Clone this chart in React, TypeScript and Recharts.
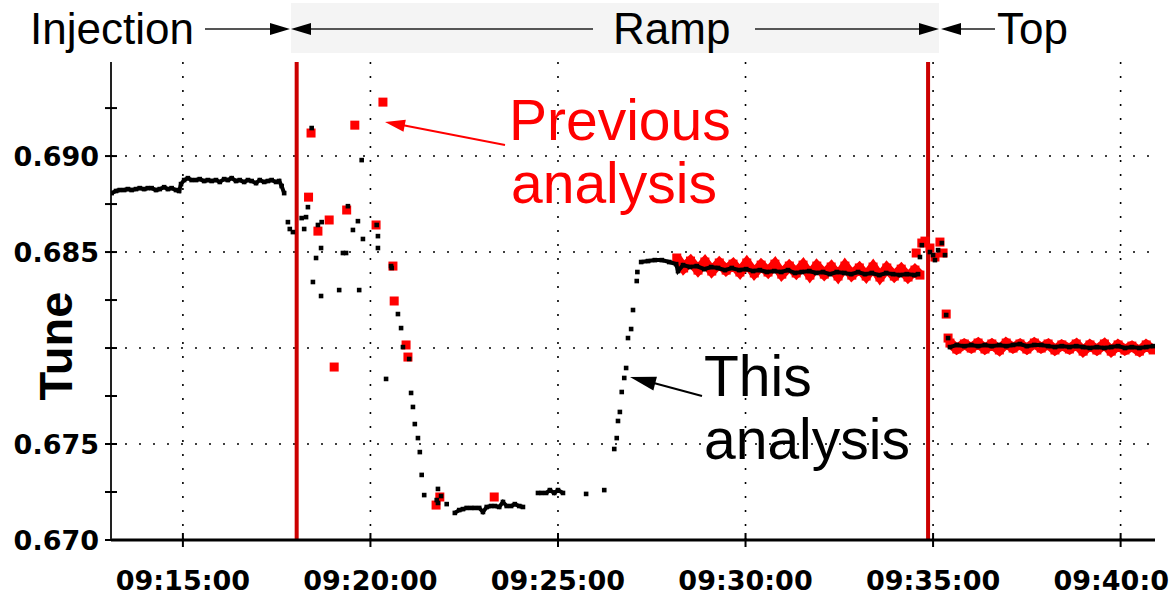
import { ComposedChart, Scatter, XAxis, YAxis, ReferenceLine } from "recharts";

type Pt = [number, number];

// time is seconds after 09:00:00, value is the tune

const injectionBlack: Pt[] = [
  [786, 0.68807], [793, 0.68818], [799, 0.68823], [806, 0.68823], [812, 0.68828], [818, 0.68823],
  [825, 0.68828], [831, 0.68833], [838, 0.68828], [844, 0.68833], [850, 0.68833], [857, 0.68823],
  [863, 0.68828], [870, 0.68838], [876, 0.68828], [882, 0.68833], [889, 0.68823], [894, 0.68818],
  [897, 0.68854], [902, 0.68875], [908, 0.68885], [914, 0.68875], [921, 0.68875], [927, 0.6888],
  [934, 0.6887], [940, 0.68875], [946, 0.6887], [953, 0.68875], [959, 0.68865], [966, 0.6888],
  [972, 0.68875], [978, 0.68885], [985, 0.6887], [991, 0.68875], [998, 0.68865], [1004, 0.68875],
  [1010, 0.6887], [1017, 0.68859], [1023, 0.68875], [1030, 0.68865], [1036, 0.6887], [1042, 0.68875],
  [1049, 0.68865], [1054, 0.6887], [1058, 0.68844], [1062, 0.68807],
];

const rampDownBlack: Pt[] = [
  [1068, 0.68656], [1071, 0.6862], [1076, 0.68604], [1090, 0.68677], [1094, 0.6862], [1097, 0.68682],
  [1100, 0.68734], [1106, 0.69146], [1108, 0.68344], [1113, 0.68469], [1116, 0.68641], [1121, 0.68521],
  [1121, 0.68271], [1122, 0.68656], [1150, 0.68302], [1156, 0.68495], [1161, 0.68495], [1164, 0.68739],
  [1172, 0.68615], [1180, 0.68661], [1182, 0.68302], [1186, 0.68979], [1188, 0.68568], [1210, 0.68641],
  [1212, 0.68583], [1212, 0.68521], [1225, 0.67839], [1233, 0.68427], [1234, 0.68417], [1244, 0.68177],
  [1249, 0.68104], [1252, 0.68005], [1262, 0.67943], [1265, 0.67766], [1268, 0.67693], [1271, 0.67604],
  [1276, 0.67531], [1279, 0.67458], [1282, 0.67339], [1286, 0.67234], [1306, 0.67208], [1308, 0.67266],
  [1308, 0.67193], [1313, 0.67229], [1322, 0.67187],
];

const bottomBlack: Pt[] = [
  [1335, 0.67141], [1342, 0.67156], [1348, 0.67161], [1354, 0.67167], [1361, 0.67167], [1367, 0.67167],
  [1374, 0.67167], [1380, 0.67146], [1386, 0.67172], [1393, 0.67177], [1399, 0.67177], [1406, 0.67172],
  [1412, 0.67198], [1418, 0.67177], [1425, 0.67177], [1431, 0.67187], [1438, 0.67177], [1444, 0.67172],
];

const bottomBlack2: Pt[] = [
  [1468, 0.67245], [1474, 0.67245], [1481, 0.67245], [1487, 0.6726], [1494, 0.67245], [1500, 0.6726],
  [1508, 0.67245],
];

const rampUpBlack: Pt[] = [
  [1545, 0.6724], [1574, 0.6726], [1590, 0.67474], [1594, 0.67531], [1596, 0.6762], [1599, 0.67667],
  [1602, 0.67771], [1606, 0.67844], [1609, 0.67896], [1612, 0.68052], [1617, 0.68099], [1620, 0.68198],
  [1626, 0.68349], [1627, 0.68396],
];

const rampTopBlack: Pt[] = [
  [1633, 0.68448], [1644, 0.68453], [1655, 0.68458], [1666, 0.68458], [1678, 0.68448], [1689, 0.68437],
  [1692, 0.68401], [1700, 0.68432], [1711, 0.68422], [1722, 0.68427], [1734, 0.68411], [1745, 0.68422],
  [1756, 0.68417], [1767, 0.68406], [1778, 0.68417], [1790, 0.68406], [1801, 0.68411], [1812, 0.68401],
  [1823, 0.68406], [1834, 0.68396], [1846, 0.68401], [1857, 0.68396], [1868, 0.68406], [1879, 0.68391],
  [1890, 0.68396], [1902, 0.68401], [1913, 0.68391], [1924, 0.68396], [1935, 0.68385], [1946, 0.68396],
  [1958, 0.68391], [1969, 0.68385], [1980, 0.68396], [1991, 0.68385], [2002, 0.68391], [2014, 0.6838],
  [2025, 0.68391], [2036, 0.68385], [2047, 0.6838], [2058, 0.68385], [2070, 0.6838], [2076, 0.68385],
];

const bumpBlack: Pt[] = [
  [2079, 0.68474], [2082, 0.68536], [2095, 0.685], [2100, 0.68484], [2103, 0.68458], [2108, 0.6851],
  [2114, 0.68547], [2119, 0.68484], [2121, 0.68172], [2124, 0.68052],
];

const topBlack: Pt[] = [
  [2127, 0.68005], [2138, 0.68016], [2150, 0.6801], [2161, 0.68016], [2172, 0.6801], [2183, 0.68016],
  [2194, 0.6801], [2206, 0.68016], [2217, 0.6801], [2228, 0.68016], [2239, 0.68021], [2250, 0.6801],
  [2262, 0.68016], [2273, 0.68016], [2284, 0.6801], [2295, 0.68005], [2306, 0.6801], [2318, 0.68005],
  [2329, 0.6801], [2340, 0.68005], [2351, 0.68], [2362, 0.68005], [2374, 0.68], [2385, 0.68005],
  [2396, 0.6801], [2407, 0.68], [2418, 0.68005], [2430, 0.68], [2441, 0.68005], [2452, 0.6801],
];

const rampRed: Pt[] = [
  [1101, 0.68786], [1105, 0.6912], [1116, 0.68609], [1134, 0.68667], [1142, 0.67901], [1162, 0.68719],
  [1175, 0.69161], [1209, 0.68641], [1220, 0.69281], [1236, 0.68427], [1238, 0.68245], [1257, 0.68016],
  [1260, 0.67953], [1305, 0.67182], [1311, 0.67224], [1398, 0.67224],
];

const rampTopRed: Pt[] = [
  [1690, 0.68469], [1701, 0.68417], [1712, 0.68453], [1724, 0.68406], [1735, 0.68448], [1746, 0.68401],
  [1758, 0.68443], [1769, 0.68406], [1780, 0.68437], [1791, 0.68396], [1802, 0.68443], [1814, 0.68391],
  [1825, 0.68432], [1836, 0.68396], [1847, 0.68437], [1858, 0.68385], [1870, 0.68427], [1881, 0.68391],
  [1892, 0.68432], [1903, 0.6838], [1914, 0.68427], [1926, 0.68385], [1937, 0.68422], [1948, 0.68375],
  [1959, 0.68427], [1970, 0.6838], [1982, 0.68417], [1993, 0.68375], [2004, 0.68422], [2015, 0.6837],
  [2026, 0.68417], [2038, 0.68375], [2049, 0.68411], [2060, 0.6837], [2071, 0.68406], [2079, 0.6838],
];

const bumpRed: Pt[] = [
  [2073, 0.68495], [2082, 0.68547], [2087, 0.68557], [2095, 0.68521], [2103, 0.68474], [2111, 0.68552],
  [2116, 0.68495], [2121, 0.68177], [2124, 0.68052],
];

const topRed: Pt[] = [
  [2127, 0.68026], [2138, 0.67995], [2150, 0.68021], [2161, 0.68], [2172, 0.68026], [2183, 0.67995],
  [2194, 0.68021], [2206, 0.6799], [2217, 0.68026], [2228, 0.68], [2239, 0.68021], [2250, 0.67995],
  [2262, 0.68026], [2273, 0.68], [2284, 0.68021], [2295, 0.6799], [2306, 0.68016], [2318, 0.67995],
  [2329, 0.68021], [2340, 0.67984], [2351, 0.68016], [2362, 0.6799], [2374, 0.68021], [2385, 0.67984],
  [2396, 0.68016], [2407, 0.6799], [2418, 0.6801], [2430, 0.67984], [2441, 0.68016], [2452, 0.6799],
];

const xDomain = [785, 2455];
const yDomain = [0.67, 0.6949];
const xTicks = [900, 1200, 1500, 1800, 2100, 2400];
const yTicks = [0.67, 0.6725, 0.675, 0.6775, 0.68, 0.6825, 0.685, 0.6875, 0.69, 0.6925];
const yLabelled = [0.67, 0.675, 0.685, 0.69];
const gridY = [0.675, 0.68, 0.685, 0.69];
const phaseMarks = [1082, 2092];

const rows = (pts: Pt[]) => pts.map(([t, v]) => ({ t, v }));

const clock = (s: number) => {
  const m = Math.floor(s / 60);
  const sec = s % 60;
  return `09:${String(m).padStart(2, "0")}:${String(sec).padStart(2, "0")}`;
};

const tickFont = { fontFamily: "DejaVu Sans", fontWeight: 700, fontSize: 27 } as const;
const textFont = "Liberation Sans, Arial, sans-serif";

const blackSq = (p: any) => <rect x={p.cx - 2.3} y={p.cy - 2.3} width={4.6} height={4.6} fill="#000" />;
const redSq = (p: any) => <rect x={p.cx - 4.5} y={p.cy - 4.5} width={9} height={9} fill="#ff0000" />;

function XTick({ x, y, payload }: any) {
  return (
    <g>
      <line x1={x} x2={x} y1={y - 7} y2={y + 7} stroke="#000" strokeWidth={2} />
      <text x={x} y={y + 50} textAnchor="middle" fill="#000" {...tickFont}>
        {clock(payload.value)}
      </text>
    </g>
  );
}

function YTick({ x, y, payload }: any) {
  const show = yLabelled.some((v) => Math.abs(v - payload.value) < 1e-6);
  return (
    <g>
      <line x1={x - 6} x2={x + 6} y1={y} y2={y} stroke="#000" strokeWidth={2} />
      {show && (
        <text x={x - 12} y={y + 10} textAnchor="end" fill="#000" {...tickFont}>
          {payload.value.toFixed(3)}
        </text>
      )}
    </g>
  );
}

function head(x1: number, y1: number, x2: number, y2: number, len: number, half: number) {
  const d = Math.hypot(x2 - x1, y2 - y1);
  const ux = (x2 - x1) / d;
  const uy = (y2 - y1) / d;
  const bx = x2 - ux * len;
  const by = y2 - uy * len;
  return `${x2},${y2} ${bx - uy * half},${by + ux * half} ${bx + uy * half},${by - ux * half}`;
}

function Annotations() {
  const ay = 29;
  return (
    <svg width={1169} height={596} style={{ position: "absolute", left: 0, top: 0, pointerEvents: "none" }}>
      <rect x={291} y={3} width={648} height={50} fill="#f4f4f4" />
      <g fontFamily={textFont} fontSize={44} fill="#000">
        <text x={30} y={44}>Injection</text>
        <text x={613} y={44}>Ramp</text>
        <text x={997} y={44}>Top</text>
      </g>
      <g stroke="#555" strokeWidth={2}>
        <line x1={205} y1={ay} x2={272} y2={ay} />
        <line x1={310} y1={ay} x2={593} y2={ay} />
        <line x1={755} y1={ay} x2={921} y2={ay} />
        <line x1={959} y1={ay} x2={995} y2={ay} />
      </g>
      <g fill="#000">
        <polygon points={head(200, ay, 290, ay, 20, 6)} />
        <polygon points={head(400, ay, 291, ay, 20, 6)} />
        <polygon points={head(800, ay, 939, ay, 20, 6)} />
        <polygon points={head(1000, ay, 941, ay, 20, 6)} />
      </g>
      <g fontFamily={textFont} fontSize={57} fill="#ff0000">
        <text x={509} y={140}>Previous</text>
        <text x={511} y={203}>analysis</text>
      </g>
      <line x1={505} y1={145} x2={402} y2={125} stroke="#ff0000" strokeWidth={2} />
      <polygon points={head(505, 145, 385, 122, 20, 6)} fill="#ff0000" />
      <g fontFamily={textFont} fontSize={57} fill="#000">
        <text x={704} y={396}>This</text>
        <text x={704} y={459}>analysis</text>
      </g>
      <line x1={702} y1={396} x2={650} y2={382} stroke="#000" strokeWidth={2} />
      <polygon points={head(702, 396, 630, 377, 26, 7)} fill="#000" />
      <text
        x={72}
        y={346}
        transform="rotate(-90 72 346)"
        textAnchor="middle"
        fontFamily={textFont}
        fontWeight={700}
        fontSize={47}
        fill="#000"
      >
        Tune
      </text>
    </svg>
  );
}

export default function App() {
  return (
    <div style={{ position: "relative", width: 1169, height: 596, background: "#fff" }}>
      <style>{"body{margin:0}"}</style>
      <ComposedChart width={1169} height={596} margin={{ top: 62, right: 14, bottom: 0, left: 11 }}>
        <XAxis
          dataKey="t"
          type="number"
          domain={xDomain}
          ticks={xTicks}
          interval={0}
          allowDataOverflow
          height={56}
          tickSize={0}
          tickMargin={0}
          tickLine={false}
          axisLine={{ stroke: "#000", strokeWidth: 3 }}
          tick={<XTick />}
        />
        <XAxis
          xAxisId="top"
          orientation="top"
          dataKey="t"
          type="number"
          domain={xDomain}
          height={0}
          tick={false}
          tickLine={false}
          axisLine={{ stroke: "#444", strokeWidth: 2 }}
        />
        <YAxis
          dataKey="v"
          type="number"
          domain={yDomain}
          ticks={yTicks}
          interval={0}
          allowDataOverflow
          width={100}
          tickSize={0}
          tickMargin={0}
          tickLine={false}
          axisLine={{ stroke: "#222", strokeWidth: 2 }}
          tick={<YTick />}
        />
        <YAxis
          yAxisId="right"
          orientation="right"
          dataKey="v"
          type="number"
          domain={yDomain}
          width={0}
          tick={false}
          tickLine={false}
          axisLine={{ stroke: "#000", strokeWidth: 2.5 }}
        />
        {gridY.map((v) => (
          <ReferenceLine key={`gy${v}`} y={v} stroke="#000" strokeWidth={1.6} strokeDasharray="2 12" />
        ))}
        {xTicks.map((t) => (
          <ReferenceLine key={`gx${t}`} x={t} stroke="#000" strokeWidth={1.6} strokeDasharray="2 12" />
        ))}
        <Scatter data={rows(rampRed)} shape={redSq} isAnimationActive={false} />
        <Scatter data={rows(rampTopRed)} shape={redSq} line={{ stroke: "#ff0000", strokeWidth: 10 }} isAnimationActive={false} />
        <Scatter data={rows(bumpRed)} shape={redSq} isAnimationActive={false} />
        <Scatter data={rows(topRed)} shape={redSq} line={{ stroke: "#ff0000", strokeWidth: 10 }} isAnimationActive={false} />
        <Scatter data={rows(injectionBlack)} shape={blackSq} line={{ stroke: "#000", strokeWidth: 4 }} isAnimationActive={false} />
        <Scatter data={rows(rampDownBlack)} shape={blackSq} isAnimationActive={false} />
        <Scatter data={rows(bottomBlack)} shape={blackSq} line={{ stroke: "#000", strokeWidth: 4 }} isAnimationActive={false} />
        <Scatter data={rows(bottomBlack2)} shape={blackSq} line={{ stroke: "#000", strokeWidth: 4 }} isAnimationActive={false} />
        <Scatter data={rows(rampUpBlack)} shape={blackSq} isAnimationActive={false} />
        <Scatter data={rows(rampTopBlack)} shape={blackSq} line={{ stroke: "#000", strokeWidth: 4 }} isAnimationActive={false} />
        <Scatter data={rows(bumpBlack)} shape={blackSq} isAnimationActive={false} />
        <Scatter data={rows(topBlack)} shape={blackSq} line={{ stroke: "#000", strokeWidth: 4 }} isAnimationActive={false} />
        {phaseMarks.map((t) => (
          <ReferenceLine key={`pm${t}`} x={t} stroke="#cc0000" strokeWidth={4} />
        ))}
      </ComposedChart>
      <Annotations />
    </div>
  );
}
